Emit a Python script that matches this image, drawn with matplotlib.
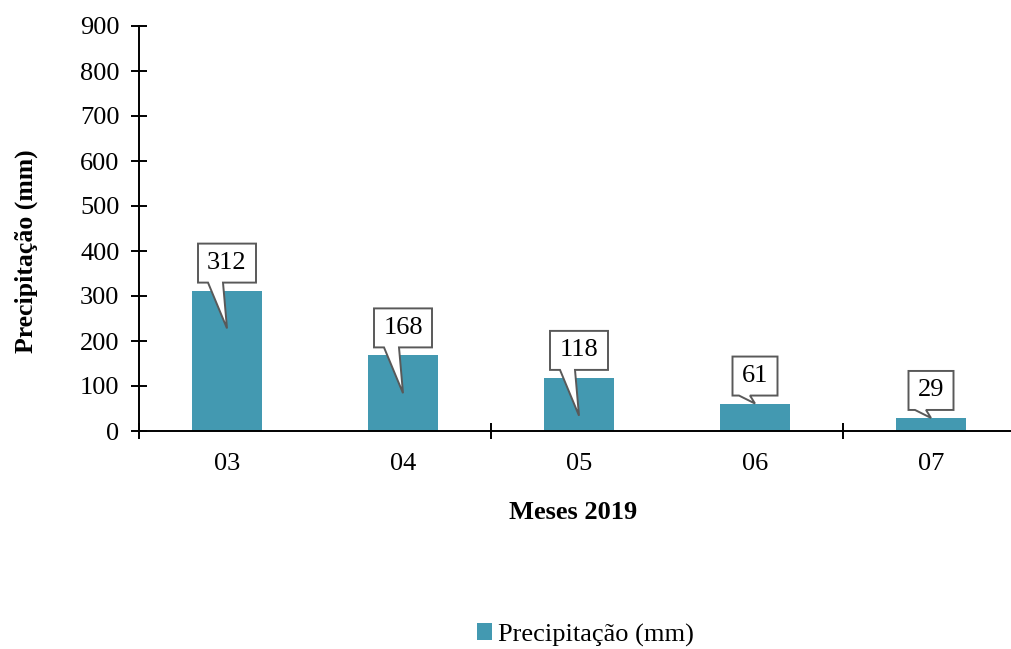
import matplotlib
matplotlib.use("Agg")
import matplotlib.pyplot as plt
from matplotlib.patches import Polygon, Patch

months = ["03", "04", "05", "06", "07"]
precip = [312, 168, 118, 61, 29]
series_name = "Precipitação (mm)"
x_title = "Meses 2019"
y_title = "Precipitação (mm)"
y_ticks = [0, 100, 200, 300, 400, 500, 600, 700, 800, 900]

plt.rcParams["font.family"] = ["Liberation Serif", "DejaVu Serif"]
bar_color = "#4399B1"
fs = 19

W, H = 1011, 649
fig = plt.figure(figsize=(W / 100, H / 100), dpi=100)
ax = fig.add_axes([139 / W, 218 / H, 880 / W, 405 / H])

x = list(range(len(months)))
ax.bar(x, precip, width=0.4, color=bar_color, zorder=2)

ax.set_xlim(-0.5, len(months) - 0.5)
ax.set_ylim(0, 900)
ax.set_yticks(y_ticks)
ax.set_yticklabels([str(t) for t in y_ticks], fontsize=fs)

ax.set_xticks([-0.5, 1.5, 3.5])
ax.set_xticklabels([])
ax.set_xticks(x, minor=True)
ax.set_xticklabels(months, minor=True, fontsize=fs)
ax.tick_params(axis="x", which="minor", length=0, pad=16)
ax.tick_params(axis="x", which="major", direction="inout", length=12, width=1.4)
ax.tick_params(axis="y", direction="inout", length=12, width=1.4, pad=8)

for s in ["top", "right"]:
    ax.spines[s].set_visible(False)
for s in ["left", "bottom"]:
    ax.spines[s].set_linewidth(1.4)
ax.spines["bottom"].set_zorder(3)

ax.set_xlabel(x_title, fontsize=fs, fontweight="bold")
ax.xaxis.set_label_coords(0.493, -0.173)
ax.set_ylabel(y_title, fontsize=18.5, fontweight="bold")
ax.yaxis.set_label_coords(-0.115, 0.444)

# data callouts: white box above each bar with a wedge pointing into the bar
fig.canvas.draw()
to_px = ax.transData.transform
for xi, v in zip(x, precip):
    label = str(v)
    cx, top = to_px((xi, v))
    tip_val = v - 84 if v > 100 else v
    _, tip_y = to_px((xi, tip_val))
    w = 58 if len(label) == 3 else 45
    h = 39
    b = top + 8
    bl, br = (cx - 19, cx - 4) if len(label) == 3 else (cx - 16, cx - 5)
    verts = [
        (cx - w / 2, b), (bl, b), (cx, tip_y), (br, b), (cx + w / 2, b),
        (cx + w / 2, b + h), (cx - w / 2, b + h),
    ]
    poly = Polygon(verts, closed=True, facecolor="white", edgecolor="#595959",
                   linewidth=1.4, transform=None, zorder=5, joinstyle="miter")
    fig.add_artist(poly)
    fig.text(cx / W, (b + h / 2) / H, label, ha="center", va="center",
             fontsize=fs, zorder=6)

handle = Patch(facecolor=bar_color, edgecolor="none")
fig.legend([handle], [series_name], loc="center", bbox_to_anchor=(585 / W, 14 / H),
           frameon=False, fontsize=fs, handlelength=0.6, handleheight=0.6,
           handletextpad=0.2)

fig.savefig("out.png", dpi=100)
